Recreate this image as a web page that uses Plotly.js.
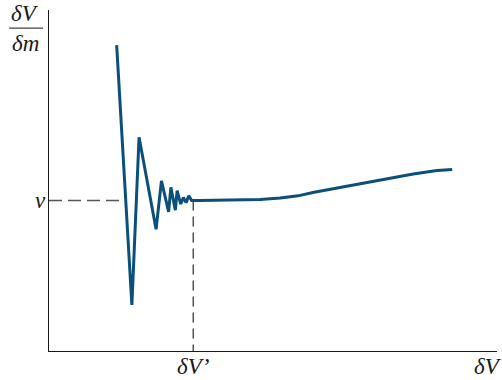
<!DOCTYPE html>
<html>
<head>
<meta charset="utf-8">
<script src="https://cdn.plot.ly/plotly-3.0.1.min.js"></script>
<style>html,body{margin:0;padding:0;background:#fff}#chart{width:502px;height:380px}</style>
</head>
<body>
<div id="chart"></div>
<script>
// Marginal curve δV/δm (x: 0..100 of axis, y: 0..100 of axis)
const curveX = [15.1, 18.5, 20.1, 23.9, 25.1, 26.7, 27.2, 28.2, 28.6, 29.4, 30.0, 30.6, 31.2, 31.85, 33.7, 40.4, 47.1, 51.6, 55.6, 58.9, 66.5, 73.9, 81.3, 86.6, 90.0];
const curveY = [89.7, 13.5, 62.7, 35.7, 49.9, 40.8, 48.0, 41.3, 47.0, 43.1, 45.0, 43.5, 45.5, 44.1, 44.1, 44.2, 44.4, 44.9, 45.5, 46.5, 48.4, 50.1, 51.9, 52.9, 53.2];
const vLevel = 44.1;        // level "v"
const dVprime = 32.2;       // δV′ position
const vDashEnd = 15.8;      // horizontal dashed guide ends here
const labelV = "<i>v</i>";
const labelDVp = "<i>δV’</i>";
const labelDV = "<i>δV</i>";
const labelNum = "<i>δV</i>";
const labelDen = "<i>δm</i>";

const serif = "Liberation Serif, Times New Roman, serif";
const ink = "#1a1a1a";
const fs = 23;

const traces = [
  {x: [0, vDashEnd], y: [vLevel, vLevel], mode: "lines", line: {color: "#555", width: 1.5, dash: "13px,6px"}, hoverinfo: "skip"},
  {x: [dVprime, dVprime], y: [vLevel, 0], mode: "lines", line: {color: "#555", width: 1.5, dash: "10px,6px"}, hoverinfo: "skip"},
  {x: curveX, y: curveY, mode: "lines", line: {color: "#0b4f7c", width: 3, shape: "linear"}}
];

const layout = {
  width: 502, height: 380,
  margin: {l: 49, r: 5, t: 10, b: 29},
  showlegend: false,
  paper_bgcolor: "#fff", plot_bgcolor: "#fff",
  xaxis: {range: [0, 100], showgrid: false, zeroline: false, showticklabels: false, ticks: "", showline: true, linecolor: ink, linewidth: 1, fixedrange: true},
  yaxis: {range: [0, 100], showgrid: false, zeroline: false, showticklabels: false, ticks: "", showline: true, linecolor: ink, linewidth: 1, fixedrange: true},
  annotations: [
    {xref: "paper", yref: "y", x: -0.018, y: vLevel, text: labelV, showarrow: false, xanchor: "center", yanchor: "middle", font: {family: serif, size: fs, color: ink}},
    {xref: "x", yref: "paper", x: dVprime, y: 0, yshift: -1, text: labelDVp, showarrow: false, xanchor: "center", yanchor: "top", font: {family: serif, size: fs, color: ink}},
    {xref: "x", yref: "paper", x: 98, y: 0, yshift: -1, text: labelDV, showarrow: false, xanchor: "center", yanchor: "top", font: {family: serif, size: fs, color: ink}},
    {xref: "paper", yref: "paper", x: -0.053, y: 0.99, text: labelNum, showarrow: false, xanchor: "center", yanchor: "middle", font: {family: serif, size: fs, color: ink}},
    {xref: "paper", yref: "paper", x: -0.053, y: 0.903, text: labelDen, showarrow: false, xanchor: "center", yanchor: "middle", font: {family: serif, size: fs, color: ink}}
  ],
  shapes: [
    {type: "line", xref: "paper", yref: "paper", x0: -0.089, x1: -0.0134, y0: 0.947, y1: 0.947, line: {color: "#444", width: 1.2}}
  ]
};

Plotly.newPlot("chart", traces, layout, {displayModeBar: false, staticPlot: true});
</script>
</body>
</html>
